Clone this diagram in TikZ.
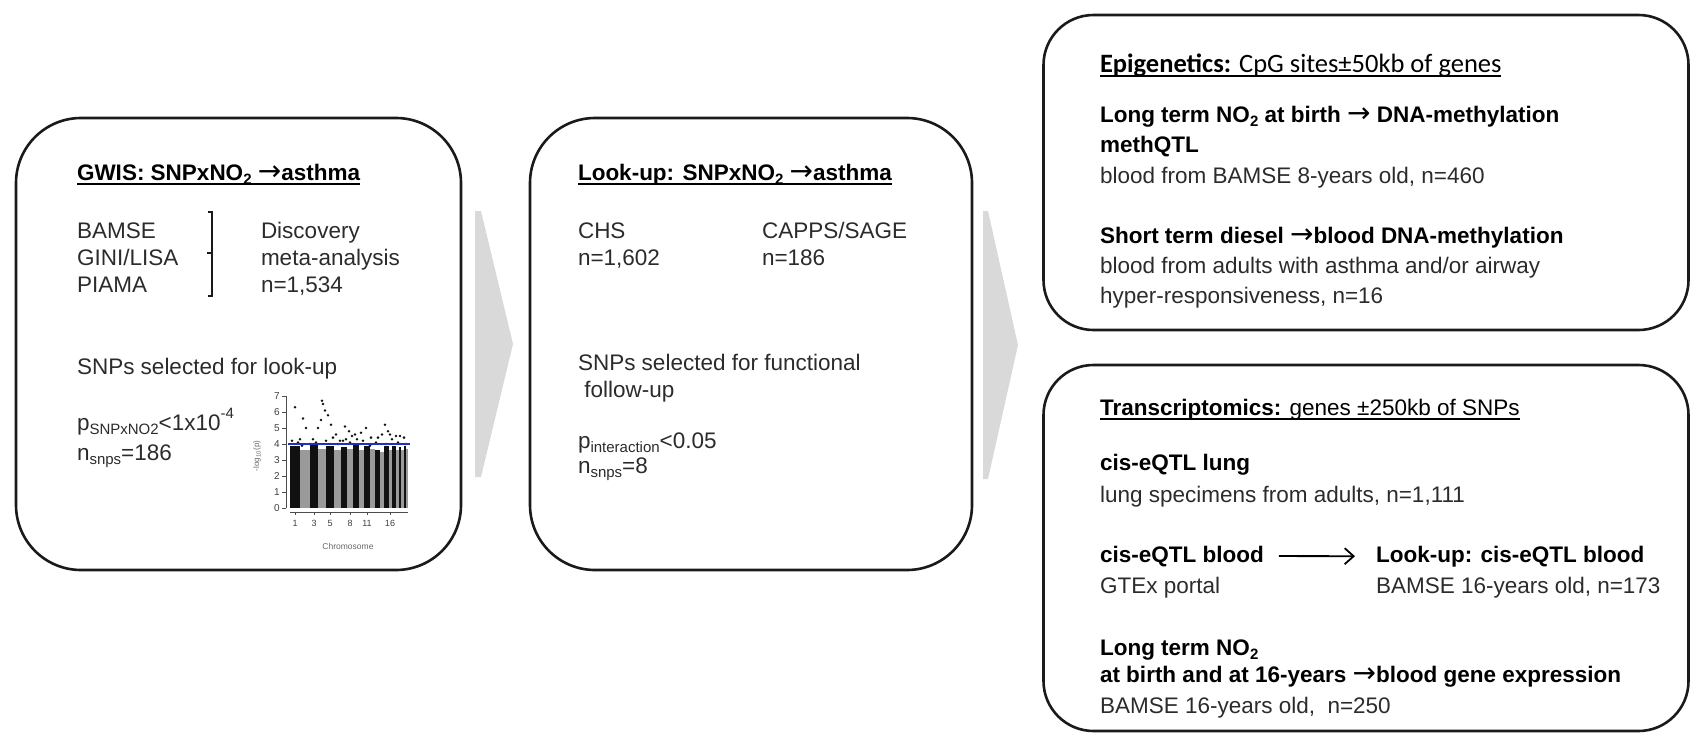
\documentclass[tikz,border=0pt]{standalone}
\usepackage{fontspec}
\setmainfont{Liberation Sans}
\newfontfamily\calfont{Carlito}
\newfontfamily\arrf{DejaVu Sans}
\usetikzlibrary{arrows.meta}
\definecolor{txtc}{HTML}{2B2B2B}
\definecolor{boxc}{HTML}{1A1A1A}
\definecolor{arrg}{HTML}{D9D9D9}
\definecolor{mgrey}{HTML}{9A9A9A}
\definecolor{mblack}{HTML}{111111}
\definecolor{mblue}{HTML}{2030C0}
\newcommand{\fsz}{\fontsize{22.5}{27}\selectfont}
\newcommand{\arr}{{\arrf\mdseries\fontsize{28}{28}\selectfont →}}
\newcommand{\lsub}[1]{\raisebox{-0.2em}{\fontsize{15}{15}\selectfont #1}}
\newcommand{\lsup}[1]{\raisebox{0.5em}{\fontsize{15}{15}\selectfont #1}}
\newcommand{\ul}[1]{\setbox0=\hbox{#1}\rlap{\rule[-4.5pt]{\wd0}{1.5pt}}\box0}
\tikzset{
  rbox/.style={draw=boxc, line width=2.6pt, rounded corners=#1, inner sep=0pt},
  tx/.style={anchor=base west, inner sep=0pt, outer sep=0pt, font=\fsz, text=txtc},
  tb/.style={tx, font=\fsz\bfseries, text=black},
  small/.style={inner sep=0pt, font=\fontsize{10}{10}\selectfont, text=black!75},
}
\begin{document}
\begin{tikzpicture}[x=1pt,y=-1pt]
\useasboundingbox (0,0) rectangle (1692,734);

% boxes
\node[rbox=65pt, minimum width=445pt, minimum height=452pt] (b1) at (238.5,344) {};
\node[rbox=65pt, minimum width=442pt, minimum height=452pt] (b2) at (751,344) {};
\node[rbox=50pt, minimum width=645pt, minimum height=315pt] (b3) at (1366,172.5) {};
\node[rbox=50pt, minimum width=645pt, minimum height=366pt] (b4) at (1366,548) {};

% big grey arrows
\fill[arrg] (475,211) -- (481,211) -- (513,344) -- (481,477) -- (475,477) -- cycle;
\fill[arrg] (983,211) -- (988,211) -- (1018,345) -- (988,479) -- (983,479) -- cycle;

% ---------- box 1 ----------
\node[tx, text=black] (t1) at (77,180) {\ul{\bfseries GWIS: SNPxNO\lsub{2} \arr asthma}};
\node[tx] (c1) at (77,238) {BAMSE};
\node[tx] (c2) at (77,265) {GINI/LISA};
\node[tx] (c3) at (77,292) {PIAMA};
\draw[boxc, line width=1.4pt] (208,212) -- (212,212) -- (212,296) -- (208,296);
\draw[boxc, line width=1.4pt] (207,253) -- (212,253);
\node[tx] (d1) at (261,238) {Discovery};
\node[tx] (d2) at (261,265) {meta-analysis};
\node[tx] (d3) at (261,292) {n=1,534};
\node[tx] (s1) at (77,374) {SNPs selected for look-up};
\node[tx] (p1) at (77,430) {p\lsub{SNPxNO2}<1x10\lsup{-4}};
\node[tx] (n1) at (77,460) {n\lsub{snps}=186};

% Manhattan plot
\foreach \a/\b/\c/\h in {290/300.2/mblack/3.9, 300.2/310.2/mgrey/3.6, 310.2/318.3/mblack/4.0,
  318.3/326.1/mgrey/3.7, 326.1/333.5/mblack/3.9, 333.5/340.5/mgrey/3.6, 340.5/347.0/mblack/3.8,
  347.0/353.0/mgrey/3.7, 353.0/358.8/mblack/4.0, 358.8/364.3/mgrey/3.6, 364.3/369.9/mblack/3.9,
  369.9/375.3/mgrey/3.7, 375.3/380.0/mblack/3.6, 380.0/384.4/mgrey/3.5, 384.4/388.6/mblack/3.9,
  388.6/392.3/mgrey/3.6, 392.3/395.7/mblack/3.9, 395.7/399.0/mgrey/3.6, 399.0/401.4/mblack/3.8,
  401.4/404.0/mgrey/3.6, 404.0/406.0/mblack/3.9, 406.0/408.1/mgrey/3.7}
  \fill[\c] (\a,508) rectangle (\b,{508-16*\h});
\foreach \x/\v in {295/6.3, 300/4.3, 303/5.6, 306/5.0, 322/6.7, 323/6.5, 325/6.1, 328/5.8,
  321/5.5, 331/5.2, 318/5.0, 336/4.6, 340/4.2, 345/5.1, 349/4.8, 352/4.5, 357/4.3, 361/4.7,
  366/5.0, 371/4.4, 376/4.1, 382/4.6, 385/5.2, 388/4.8, 392/4.3, 396/4.5, 400/4.5, 404/4.4,
  298/4.1, 313/4.3, 333/4.4, 343/4.2, 355/4.6, 363/4.2, 378/4.4, 390/4.6, 302/3.9, 310/4.0,
  326/4.2, 338/4.0, 350/4.1, 370/3.9, 386/4.0, 398/4.1, 406/4.0, 292/4.2, 316/4.1, 346/4.3}
  \fill[mblack] (\x,{508-16*\v}) circle[radius=1.4pt];
\draw[mblue, line width=1.4pt] (288,444) -- (410,444);
\draw[black!70, line width=0.6pt] (286,396) -- (286,508);
\foreach \v in {0,...,7} {
  \draw[black!70, line width=0.6pt] (282,{508-16*\v}) -- (286,{508-16*\v});
  \node[small, anchor=east] (yl\v) at (280,{508-16*\v}) {\v};
}
\draw[black!70, line width=0.6pt] (290,512) -- (408,512);
\foreach \x/\l in {295/1, 314/3, 330/5, 350/8, 367/11, 390/16} {
  \draw[black!70, line width=0.6pt] (\x,512) -- (\x,515);
  \node[small, font=\fontsize{9}{9}\selectfont] (xl\l) at (\x,523) {\l};
}
\node[small, font=\fontsize{8.5}{9}\selectfont, text=black!60] (chrom) at (348,546) {Chromosome};
\node[small, font=\fontsize{8}{8}\selectfont, rotate=90, text=black!60] (ylab) at (257,456) {-log\textsubscript{10}(p)};

% ---------- box 2 ----------
\node[tx, text=black] (t2) at (578,180) {\ul{\bfseries Look-up: SNPxNO\lsub{2} \arr asthma}};
\node[tx] (e1) at (578,238) {CHS};
\node[tx] (e2) at (578,265) {n=1,602};
\node[tx] (f1) at (762,238) {CAPPS/SAGE};
\node[tx] (f2) at (762,265) {n=186};
\node[tx] (s2) at (578,370) {SNPs selected for functional};
\node[tx] (s3) at (578,397) {\ follow-up};
\node[tx] (p2) at (578,448) {p\lsub{interaction}<0.05};
\node[tx] (n2) at (578,473) {n\lsub{snps}=8};

% ---------- box 3 ----------
\node[tx, text=black] (t3) at (1100,72) {\ul{\fontsize{26.5}{30}\selectfont\calfont{\bfseries Epigenetics:} CpG sites±50kb of genes}};
\node[tb] (g1) at (1100,122) {Long term NO\lsub{2} at birth \arr{} DNA-methylation};
\node[tb] (g2) at (1100,152) {methQTL};
\node[tx] (g3) at (1100,183) {blood from BAMSE 8-years old, n=460};
\node[tb] (g4) at (1100,243) {Short term diesel \arr blood DNA-methylation};
\node[tx] (g5) at (1100,273) {blood from adults with asthma and/or airway};
\node[tx] (g6) at (1100,303) {hyper-responsiveness, n=16};

% ---------- box 4 ----------
\node[tx, text=black] (t4) at (1100,415) {\ul{\textbf{Transcriptomics:} genes ±250kb of SNPs}};
\node[tb] (h1) at (1100,470) {cis-eQTL lung};
\node[tx] (h2) at (1100,502) {lung specimens from adults, n=1,111};
\node[tb] (cb) at (1100,562) {cis-eQTL blood};
\node[tx] (h3) at (1100,593) {GTEx portal};
\node[tb] (lb) at (1376,562) {Look-up: cis-eQTL blood};
\node[tx] (h4) at (1376,593) {BAMSE 16-years old, n=173};
\node[tb] (h5) at (1100,655) {Long term NO\lsub{2}};
\node[tb] (h6) at (1100,682) {at birth and at 16-years \arr blood gene expression};
\node[tx] (h7) at (1100,713) {BAMSE 16-years old,\ \ n=250};
\draw[black, line width=1.8pt, -{Straight Barb[length=9pt,width=16pt]}] ([xshift=15pt]cb.east) -- ([xshift=-21pt]lb.west);

\end{tikzpicture}
\end{document}
